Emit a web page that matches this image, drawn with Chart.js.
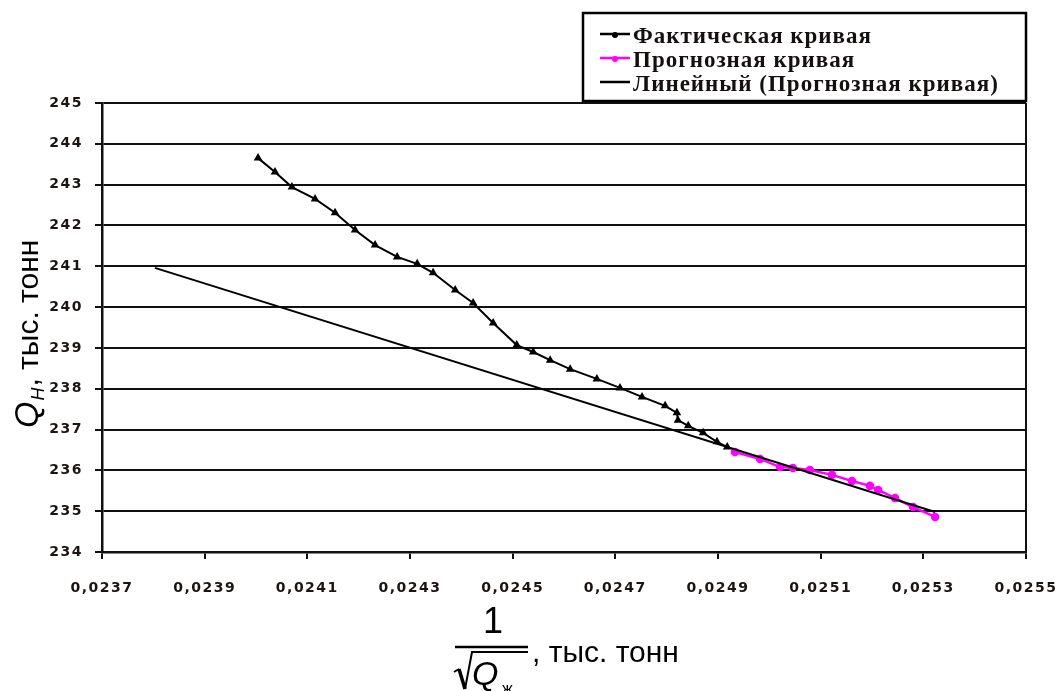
<!DOCTYPE html>
<html>
<head>
<meta charset="utf-8">
<script src="https://cdn.jsdelivr.net/npm/chart.js@4.4.0/dist/chart.umd.min.js"></script>
<style>
  html, body { margin: 0; padding: 0; background: #fff; }
  #wrap { width: 1059px; height: 691px; }
</style>
</head>
<body>
<div id="wrap"><canvas id="curve_chart" width="1059" height="691"></canvas></div>
<script>
// values
const actualX = [0.024004, 0.024037, 0.024070, 0.024115, 0.024154, 0.024193, 0.024232, 0.024275, 0.024314,
  0.024345, 0.024388, 0.024423, 0.024462, 0.024508, 0.024540, 0.024573, 0.024612, 0.024664, 0.024709,
  0.024752, 0.024797, 0.024820, 0.024822, 0.024842, 0.024871, 0.024898, 0.024918]
const actualY = [243.65, 243.31, 242.94, 242.65, 242.31, 241.89, 241.52, 241.23, 241.06,
  240.84, 240.42, 240.10, 239.61, 239.07, 238.90, 238.70, 238.48, 238.24, 238.02,
  237.80, 237.58, 237.41, 237.23, 237.09, 236.92, 236.70, 236.57]

const forecastX = [0.024933, 0.024982, 0.025021, 0.025046, 0.025079, 0.025122, 0.025161, 0.025196,
  0.025212, 0.025245, 0.025280, 0.025323]
const forecastY = [236.45, 236.28, 236.08, 236.06, 236.01, 235.89, 235.74, 235.62,
  235.52, 235.32, 235.10, 234.86]

const trendX = [0.023803, 0.025323]
const trendY = [240.96, 234.98]

const xTickValues = [0.0237, 0.0239, 0.0241, 0.0243, 0.0245, 0.0247, 0.0249, 0.0251, 0.0253, 0.0255]
const yMin = 234
const yMax = 245

const seriesLabels = ['Фактическая кривая', 'Прогнозная кривая', 'Линейный (Прогнозная кривая)']

const toPoints = (xs, ys) => xs.map((x, i) => ({ x: x, y: ys[i] }))

const tickFont = { family: 'DejaVu Sans', size: 14, weight: 'bold' }

// legend box drawn by hand, it overlaps the top of the plot like in the original
const boxLegend = {
  id: 'boxLegend',
  afterDraw(chart) {
    const ctx = chart.ctx
    ctx.save()
    ctx.fillStyle = '#fff'
    ctx.fillRect(583, 13, 443, 88)
    ctx.strokeStyle = '#000'
    ctx.lineWidth = 2.5
    ctx.strokeRect(583, 13, 443, 88)
    const rows = [41, 65, 89]
    chart.data.datasets.forEach((ds, i) => {
      const y = rows[i]
      ctx.strokeStyle = ds.borderColor
      ctx.lineWidth = 2.5
      ctx.beginPath()
      ctx.moveTo(600, y - 7)
      ctx.lineTo(630, y - 7)
      ctx.stroke()
      if (ds.pointRadius > 0) {
        ctx.fillStyle = ds.pointBackgroundColor
        ctx.beginPath()
        ctx.arc(615, y - 6, 3, 0, Math.PI * 2)
        ctx.fill()
      }
      ctx.fillStyle = '#151010'
      ctx.font = 'bold 23px "Liberation Serif"'
      ctx.letterSpacing = '1px'
      ctx.textBaseline = 'alphabetic'
      ctx.textAlign = 'left'
      ctx.fillText(ds.label, 633, y + 2)
    })
    ctx.restore()
  },
}

// axis titles with the math notation
const axisTitles = {
  id: 'axisTitles',
  afterDraw(chart) {
    const ctx = chart.ctx
    ctx.save()
    ctx.letterSpacing = '0px'
    ctx.fillStyle = '#000'
    ctx.strokeStyle = '#000'
    ctx.textBaseline = 'alphabetic'

    // y title, rotated
    ctx.translate(38, 428)
    ctx.rotate(-Math.PI / 2)
    ctx.font = 'italic 34px "Liberation Sans"'
    ctx.fillText('Q', 0, 0)
    let w = ctx.measureText('Q').width
    ctx.font = 'italic 18px "Liberation Sans"'
    ctx.fillText('H', w + 1, 6)
    w += ctx.measureText('H').width + 2
    ctx.font = '30px "Liberation Sans"'
    ctx.fillText(', тыс. тонн', w, 0)
    ctx.setTransform(1, 0, 0, 1, 0, 0)

    // x title, fraction 1 / sqrt(Q)
    ctx.font = '36px "Liberation Sans"'
    ctx.textAlign = 'center'
    ctx.fillText('1', 493, 633)
    ctx.lineWidth = 2.5
    ctx.beginPath()
    ctx.moveTo(455, 647)
    ctx.lineTo(528, 647)
    ctx.stroke()
    // radical sign
    ctx.lineWidth = 2
    ctx.beginPath()
    ctx.moveTo(454, 672)
    ctx.lineTo(459, 669)
    ctx.stroke()
    ctx.lineWidth = 3.5
    ctx.beginPath()
    ctx.moveTo(459, 669)
    ctx.lineTo(465, 689)
    ctx.stroke()
    ctx.lineWidth = 2
    ctx.beginPath()
    ctx.moveTo(465, 689)
    ctx.lineTo(472, 652)
    ctx.lineTo(528, 652)
    ctx.stroke()
    ctx.textAlign = 'left'
    ctx.font = 'italic 34px "Liberation Sans"'
    ctx.fillText('Q', 472, 685)
    ctx.font = '16px "Liberation Sans"'
    ctx.fillText('ж', 502, 694)
    ctx.font = '30px "Liberation Sans"'
    ctx.fillText(', тыс. тонн', 532, 662)
    ctx.restore()
  },
}

// right border of the plot area
const rightBorder = {
  id: 'rightBorder',
  afterDatasetsDraw(chart) {
    const { ctx, chartArea } = chart
    ctx.save()
    ctx.strokeStyle = '#111'
    ctx.lineWidth = 2
    ctx.beginPath()
    ctx.moveTo(chartArea.right, chartArea.top)
    ctx.lineTo(chartArea.right, chartArea.bottom)
    ctx.stroke()
    ctx.restore()
  },
}

const tickSpacing = {
  id: 'tickSpacing',
  beforeDraw(chart) {
    chart.ctx.letterSpacing = '1.5px'
  },
  afterDraw(chart) {
    chart.ctx.letterSpacing = '0px'
  },
}

new Chart(document.getElementById('curve_chart').getContext('2d'), {
  type: 'scatter',
  data: {
    datasets: [
      {
        label: seriesLabels[0],
        data: toPoints(actualX, actualY),
        showLine: true,
        borderColor: '#000',
        borderWidth: 2,
        pointStyle: 'triangle',
        pointRadius: 3,
        pointBackgroundColor: '#000',
        pointBorderColor: '#000',
        order: 1,
      },
      {
        label: seriesLabels[1],
        data: toPoints(forecastX, forecastY),
        showLine: true,
        borderColor: '#ff00ff',
        borderWidth: 2.5,
        pointStyle: 'circle',
        pointRadius: 3,
        pointBackgroundColor: '#ff00ff',
        pointBorderColor: '#ff00ff',
        order: 2,
      },
      {
        label: seriesLabels[2],
        data: toPoints(trendX, trendY),
        showLine: true,
        borderColor: '#000',
        borderWidth: 2,
        pointRadius: 0,
        order: 0,
      },
    ],
  },
  options: {
    responsive: false,
    animation: false,
    layout: { padding: { top: 103, right: 33, left: 0, bottom: 0 } },
    plugins: {
      legend: { display: false },
      tooltip: { enabled: false },
    },
    scales: {
      x: {
        type: 'linear',
        min: xTickValues[0],
        max: xTickValues[xTickValues.length - 1],
        afterBuildTicks: (scale) => {
          scale.ticks = xTickValues.map((v) => ({ value: v }))
        },
        afterFit: (scale) => {
          scale.height = 139
          scale.paddingLeft = 0
          scale.paddingRight = 0
        },
        grid: {
          drawOnChartArea: false,
          drawTicks: true,
          tickLength: 7,
          color: '#111',
          lineWidth: 2,
        },
        border: { display: true, color: '#111', width: 2.5 },
        ticks: {
          color: '#1a1512',
          font: tickFont,
          padding: 21,
          maxRotation: 0,
          autoSkip: false,
          callback: (v) => v.toFixed(4).replace('.', ','),
        },
      },
      y: {
        min: yMin,
        max: yMax,
        afterFit: (scale) => {
          scale.width = 102
          scale.paddingTop = 0
          scale.paddingBottom = 0
        },
        grid: {
          color: '#111',
          lineWidth: 2,
          tickLength: 7,
        },
        border: { display: true, color: '#111', width: 2.5 },
        ticks: {
          stepSize: 1,
          color: '#1a1512',
          font: tickFont,
          padding: 12,
        },
      },
    },
  },
  plugins: [tickSpacing, rightBorder, axisTitles, boxLegend],
})
</script>
</body>
</html>
